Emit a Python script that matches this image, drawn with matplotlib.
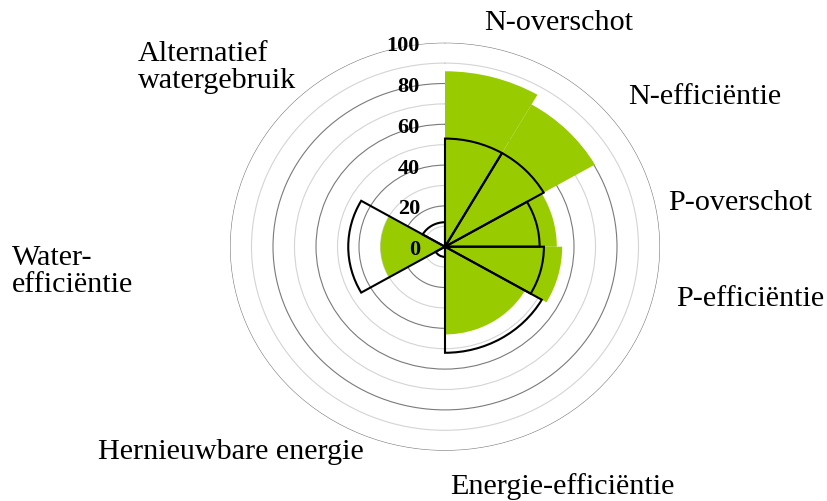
import numpy as np
import matplotlib
matplotlib.use('Agg')
import matplotlib.pyplot as plt
from matplotlib.transforms import offset_copy

# ---- data ----
categories = ['N-overschot', 'N-efficiëntie', 'P-overschot', 'P-efficiëntie',
              'Energie-efficiëntie', 'Hernieuwbare energie', 'Water-\nefficiëntie',
              'Alternatief\nwatergebruik']
sector_start_deg = [0, 30, 60, 90, 120, 180, 240, 300]
sector_width_deg = [30, 30, 30, 30, 60, 60, 60, 60]
green_values = [86, 80.5, 52, 54.5, 43, 0, 30, 0]
outline_values = [53, 53, 44, 46, 52, 5, 45, 12]
r_ticks = [0, 20, 40, 60, 80, 100]
r_minor = [10, 30, 50, 70, 90]

# ---- layout (pixels) ----
W, H = 827, 502
fig = plt.figure(figsize=(W / 100, H / 100), dpi=100)
cx, cy = 445, 247.7
rx, ry = 215, 204
ax = fig.add_axes([(cx - rx) / W, (H - cy - ry) / H, 2 * rx / W, 2 * ry / H],
                  projection='polar')
ax.set_aspect('auto')
ax.set_theta_zero_location('N')
ax.set_theta_direction(-1)

theta = np.deg2rad(sector_start_deg)
width = np.deg2rad(sector_width_deg)
ax.bar(theta, green_values, width=width, align='edge', color='#99cc00',
       linewidth=0, zorder=2)
ax.bar(theta, outline_values, width=width, align='edge', facecolor='none',
       edgecolor='black', linewidth=1.5, zorder=3)
ax.set_ylim(0, 100)

ax.set_yticks(r_ticks[1:])
ax.set_yticks(r_minor, minor=True)
ax.yaxis.grid(True, which='major', color='#7a7a7a', lw=0.8)
ax.yaxis.grid(True, which='minor', color='#d4d4d4', lw=0.8)
ax.xaxis.grid(False)
ax.set_xticks([])
ax.set_yticklabels([])
ax.tick_params(axis='y', which='both', length=0)
ax.spines['polar'].set_visible(False)
ax.set_axisbelow(True)

serif = ['Liberation Serif', 'DejaVu Serif']
trans = offset_copy(ax.transData, fig=fig, x=-25, y=0, units='dots')
for r in r_ticks:
    ax.text(0, r, str(r), transform=trans, ha='right', va='center_baseline',
            fontsize=16, fontweight='bold', family=serif, zorder=5)

# category labels: (left x, baseline of last line y) in pixels
label_pos = [(484, 30), (628, 104), (668, 210), (676, 306),
             (450, 494), (98, 459), (12, 292), (138, 88)]
for text, (x, y) in zip(categories, label_pos):
    fig.text(x / W, 1 - y / H, text, ha='left', va='baseline', fontsize=21.7,
             family=serif, linespacing=1.05)

fig.savefig('out.png', dpi=100)
